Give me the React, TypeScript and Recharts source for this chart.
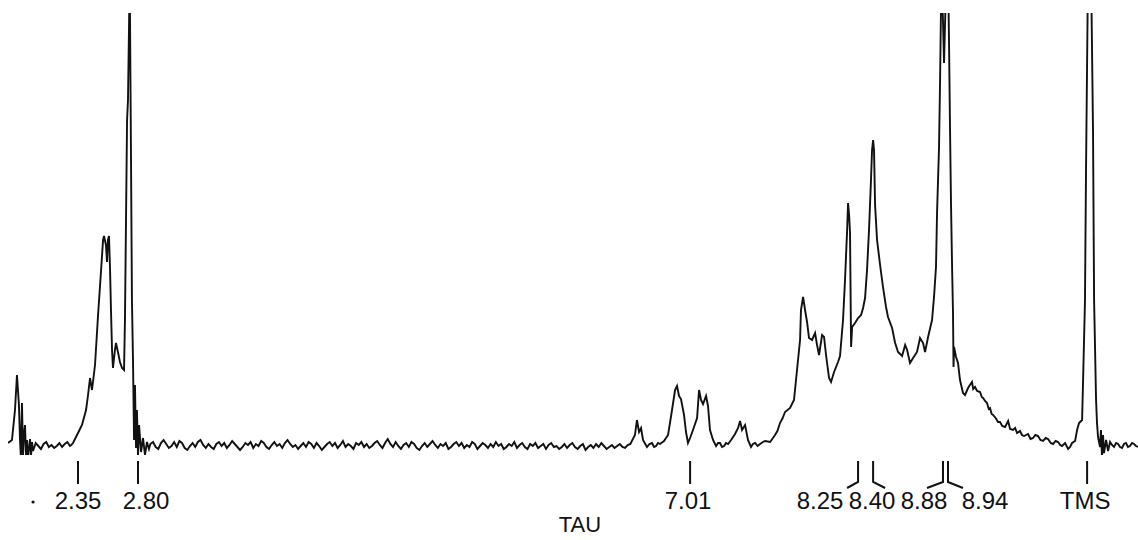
import { LineChart, Line, XAxis, YAxis, ReferenceDot } from "recharts";

// spectrum: [tau, height above baseline]
const leftEdge: [number, number][] = [
  [1.82, 2], [1.85, 5], [1.873, 35], [1.888, 70], [1.903, 40], [1.911, 5],
  [1.918, -13], [1.926, 42], [1.934, -10], [1.941, 10], [1.949, 20], [1.957, -12],
  [1.964, 5], [1.972, -13], [1.987, 6], [1.995, -10], [2.002, 3], [2.01, -6],
  [2.03, 2], [2.05, -1], [2.07, -4], [2.09, 1], [2.11, 3], [2.13, -2],
  [2.15, 0], [2.17, -3], [2.19, -1], [2.21, 2], [2.23, -2], [2.25, 1],
  [2.27, 3], [2.29, -1], [2.3, 0],
];

const aromaticBand: [number, number][] = [
  [2.313, 2], [2.351, 12], [2.381, 20], [2.412, 35], [2.427, 50], [2.442, 67],
  [2.457, 55], [2.48, 80], [2.503, 130], [2.525, 173], [2.541, 205], [2.548, 209],
  [2.563, 200], [2.571, 183], [2.578, 205], [2.586, 209], [2.594, 175], [2.601, 135],
  [2.609, 95], [2.616, 77], [2.631, 95], [2.639, 102], [2.654, 93], [2.669, 83],
  [2.685, 77], [2.7, 75], [2.707, 125], [2.715, 225], [2.723, 325], [2.73, 345],
  [2.738, 420], [2.743, 470], [2.753, 285], [2.76, 145], [2.768, 85], [2.776, 5],
  [2.783, 60], [2.791, -3], [2.798, 35], [2.806, -11], [2.814, 20], [2.829, -7],
  [2.844, 7], [2.859, -10], [2.874, 3], [2.889, -4],
];

const baselineRun: [number, number][] = [
  [2.9, 1], [2.92, 3], [2.94, -2], [2.96, -4], [2.98, 2], [3.0, 5], [3.02, 1],
  [3.04, -3], [3.06, -1], [3.08, 3], [3.1, -2], [3.12, 4], [3.14, 2], [3.16, -3],
  [3.18, -5], [3.2, -1], [3.22, 2], [3.24, -2], [3.26, 3], [3.28, 5], [3.3, 0],
  [3.32, -3], [3.34, 1], [3.36, -2], [3.38, -4], [3.4, 1], [3.42, 3], [3.44, -1],
  [3.46, 2], [3.48, -3], [3.5, 0], [3.52, 4], [3.54, 1], [3.56, -2], [3.58, -5],
  [3.6, -2], [3.62, 2], [3.64, 0], [3.66, 3], [3.68, -3], [3.7, 1], [3.72, -1],
  [3.74, 4], [3.76, 2], [3.78, -2], [3.8, -4], [3.82, 0], [3.84, 3], [3.86, -1],
  [3.88, 1], [3.9, -3], [3.92, 2], [3.94, 5], [3.96, 1], [3.98, -2], [4.0, 0],
  [4.02, -4], [4.04, -1], [4.06, 2], [4.08, -2], [4.1, 3], [4.12, 1], [4.14, -3],
  [4.16, 2], [4.18, -1], [4.2, -5], [4.22, -2], [4.24, 1], [4.26, 3], [4.28, -1],
  [4.3, 2], [4.32, -3], [4.34, 0], [4.36, 4], [4.38, -2], [4.4, 1], [4.42, -1],
  [4.44, -4], [4.46, 2], [4.48, 0], [4.5, 3], [4.52, -2], [4.54, 1], [4.56, -3],
  [4.58, -1], [4.6, 2], [4.62, 4], [4.64, 0], [4.66, -3], [4.68, 2], [4.7, 6],
  [4.72, 1], [4.74, -2], [4.76, 3], [4.78, -1], [4.8, -4], [4.82, 0], [4.84, 2],
  [4.86, -2], [4.88, 3], [4.9, 1], [4.92, -3], [4.94, -5], [4.96, -1], [4.98, 2],
  [5.0, -2], [5.02, 1], [5.04, 4], [5.06, 0], [5.08, -3], [5.1, 1], [5.12, -1],
  [5.14, 2], [5.16, -4], [5.18, -2], [5.2, 1], [5.22, 3], [5.24, -1], [5.26, 2],
  [5.28, -3], [5.3, 0], [5.32, -2], [5.34, 3], [5.36, 1], [5.38, -4], [5.4, -1],
  [5.42, 2], [5.44, 0], [5.46, -3], [5.48, 1], [5.5, -2], [5.52, 3], [5.54, -1],
  [5.56, 1], [5.58, -4], [5.6, -2], [5.62, 1], [5.64, -1], [5.66, 3], [5.68, -3],
  [5.7, 0], [5.72, 2], [5.74, -2], [5.76, -4], [5.78, 1], [5.8, -1], [5.82, 2],
  [5.84, -3], [5.86, -1], [5.88, 1], [5.9, -4], [5.92, 0], [5.94, 2], [5.96, -2],
  [5.98, -1], [6.0, -4], [6.02, -2], [6.04, 1], [6.06, -3], [6.08, 0], [6.1, 2],
  [6.12, -2], [6.14, -4], [6.16, -1], [6.18, 1], [6.2, -5], [6.22, -2], [6.24, 0],
  [6.26, -3], [6.28, 1], [6.3, -2], [6.32, 2], [6.34, -1], [6.36, -4], [6.38, -2],
  [6.4, 0], [6.42, -3], [6.44, -1], [6.46, 1], [6.48, -2], [6.5, -3], [6.52, 0],
  [6.54, 1],
];

const midBand: [number, number][] = [
  [6.575, 10], [6.59, 25], [6.606, 13], [6.621, 17], [6.636, 5], [6.666, -2],
  [6.685, 1], [6.704, 2], [6.72, -2], [6.735, -1], [6.75, 2], [6.765, 1],
  [6.795, 4], [6.826, 10], [6.856, 35], [6.879, 55], [6.894, 59], [6.909, 49],
  [6.924, 46], [6.947, 30], [6.962, 13], [6.977, 2], [6.993, 7], [7.015, 15],
  [7.046, 27], [7.061, 55], [7.076, 45], [7.091, 41], [7.114, 49], [7.129, 39],
  [7.144, 15], [7.167, 5], [7.19, -1], [7.205, 2], [7.22, 2], [7.235, -2],
  [7.251, -1], [7.265, 2], [7.281, 1], [7.304, 5], [7.334, 11], [7.357, 17],
  [7.372, 24], [7.387, 15], [7.41, 20], [7.432, 5], [7.455, -2], [7.47, 1],
  [7.486, 2], [7.505, -1], [7.524, 1], [7.545, 3], [7.562, 4], [7.6, 3],
  [7.637, 10], [7.655, 14], [7.675, 22], [7.695, 27], [7.713, 33], [7.751, 37],
  [7.781, 45], [7.804, 75], [7.827, 105],
];

const aliphaticBand: [number, number][] = [
  [7.834, 135], [7.85, 148], [7.865, 135], [7.88, 123], [7.895, 107], [7.918, 105],
  [7.941, 112], [7.956, 100], [7.971, 90], [7.994, 110], [8.009, 108], [8.024, 90],
  [8.047, 67], [8.062, 63], [8.085, 73], [8.115, 83], [8.13, 89], [8.153, 125],
  [8.168, 165], [8.184, 215], [8.191, 242], [8.199, 230], [8.206, 212], [8.214, 98],
  [8.222, 118], [8.244, 122], [8.267, 127], [8.29, 130], [8.305, 137], [8.32, 147],
  [8.335, 175], [8.35, 215], [8.365, 265], [8.373, 295], [8.381, 305], [8.388, 295],
  [8.396, 240], [8.411, 205], [8.434, 180], [8.456, 158], [8.479, 138], [8.494, 128],
  [8.525, 117], [8.548, 102], [8.57, 93], [8.601, 89], [8.624, 100], [8.639, 95],
  [8.661, 82], [8.684, 87], [8.714, 93], [8.737, 107], [8.76, 102], [8.775, 93],
  [8.798, 108], [8.828, 125], [8.843, 148], [8.858, 178], [8.866, 232], [8.881, 298],
  [8.889, 365], [8.9, 480], [8.919, 382], [8.938, 480], [8.949, 480], [8.957, 400],
  [8.964, 320], [8.972, 240], [8.98, 178], [8.987, 132], [8.991, 78], [8.995, 98],
  [9.01, 88], [9.025, 82], [9.04, 65], [9.063, 52], [9.078, 50], [9.101, 57],
  [9.115, 60], [9.131, 63], [9.14, 56], [9.154, 58], [9.17, 54], [9.192, 53],
  [9.205, 48], [9.215, 47], [9.23, 44], [9.245, 42], [9.258, 36], [9.268, 37],
  [9.28, 31], [9.291, 30], [9.31, 27], [9.329, 23],
];

const tmsBand: [number, number][] = [
  [9.344, 23], [9.36, 19], [9.382, 18], [9.405, 24], [9.42, 16], [9.442, 15],
  [9.458, 17], [9.473, 12], [9.495, 14], [9.51, 10], [9.526, 9], [9.556, 11],
  [9.575, 6], [9.594, 7], [9.612, 10], [9.632, 9], [9.65, 5], [9.67, 4],
  [9.69, 7], [9.708, 6], [9.728, 2], [9.746, 1], [9.765, 4], [9.784, 3],
  [9.8, 0], [9.814, -1], [9.837, 2], [9.86, -4], [9.875, -2], [9.89, 2],
  [9.913, 4], [9.928, 15], [9.943, 22], [9.966, 25], [9.973, 62], [9.988, 145],
  [9.996, 278], [10.011, 475], [10.034, 475], [10.049, 312], [10.057, 145], [10.072, 45],
  [10.079, 22], [10.087, 8], [10.102, -2], [10.109, 15], [10.117, -12], [10.125, 10],
  [10.132, -8], [10.148, 5], [10.163, -6], [10.178, 3], [10.193, 0], [10.208, -2],
  [10.224, 2], [10.239, 1], [10.254, -2], [10.269, -3], [10.284, 1], [10.299, 2],
  [10.314, -2], [10.329, -1], [10.345, 2], [10.36, 1], [10.375, -1], [10.39, -2],
];

// marks under the trace
const tickTau = [2.351, 2.806, 6.993, 8.267, 8.381, 8.911, 8.949, 10.004];
const tickLabels = ["2.35", "2.80", "7.01", "8.25", "8.40", "8.88", "8.94", "TMS"];
const tickShape = ["bar", "bar", "bar", "left", "right", "left", "right", "bar"];
const labelShift = [0, 8, -2, -38, -1, -19, 37, -2];
const footLength = [0, 0, 0, 11, 12, 16, 15, 0];

const spectrum = [
  ...leftEdge,
  ...aromaticBand,
  ...baselineRun,
  ...midBand,
  ...aliphaticBand,
  ...tmsBand,
].map(([tau, h]) => ({ tau, h }));

const font = "'Liberation Sans', Arial, sans-serif";

const TauTick = (props: any) => {
  const { x, index } = props;
  const shape = tickShape[index];
  const foot = footLength[index];
  let mark;
  if (shape === "left") {
    mark = <polyline points={`${x},461 ${x},482 ${x - foot},488`} fill="none" stroke="#111" strokeWidth={2} />;
  } else if (shape === "right") {
    mark = <polyline points={`${x},461 ${x},482 ${x + foot},488`} fill="none" stroke="#111" strokeWidth={2} />;
  } else {
    mark = <line x1={x} x2={x} y1={461} y2={484} stroke="#111" strokeWidth={2} />;
  }
  return (
    <g>
      {mark}
      <text
        x={x + labelShift[index]}
        y={509}
        textAnchor="middle"
        fontSize={24}
        fontFamily={font}
        fill="#111"
      >
        {tickLabels[index]}
      </text>
    </g>
  );
};

const App = () => {
  return (
    <div style={{ position: "absolute", left: 0, top: 0, background: "#fff" }}>
      <LineChart
        width={1138}
        height={540}
        data={spectrum}
        margin={{ top: 13, right: 0, left: 8, bottom: 0 }}
      >
        <XAxis
          dataKey="tau"
          type="number"
          domain={[1.82, 10.39]}
          allowDataOverflow
          ticks={tickTau}
          interval={0}
          axisLine={false}
          tickLine={false}
          height={85}
          tick={<TauTick />}
          label={{
            content: () => (
              <text x={580} y={532} textAnchor="middle" fontSize={22} fontFamily={font} fill="#111">
                TAU
              </text>
            ),
          }}
        />
        <YAxis hide type="number" domain={[-10, 432]} allowDataOverflow />
        <ReferenceDot x={2.01} y={-57} r={1.6} fill="#111" stroke="none" ifOverflow="visible" />
        <Line
          type="linear"
          dataKey="h"
          stroke="#111"
          strokeWidth={1.9}
          dot={false}
          isAnimationActive={false}
        />
      </LineChart>
    </div>
  );
};

export default App;
